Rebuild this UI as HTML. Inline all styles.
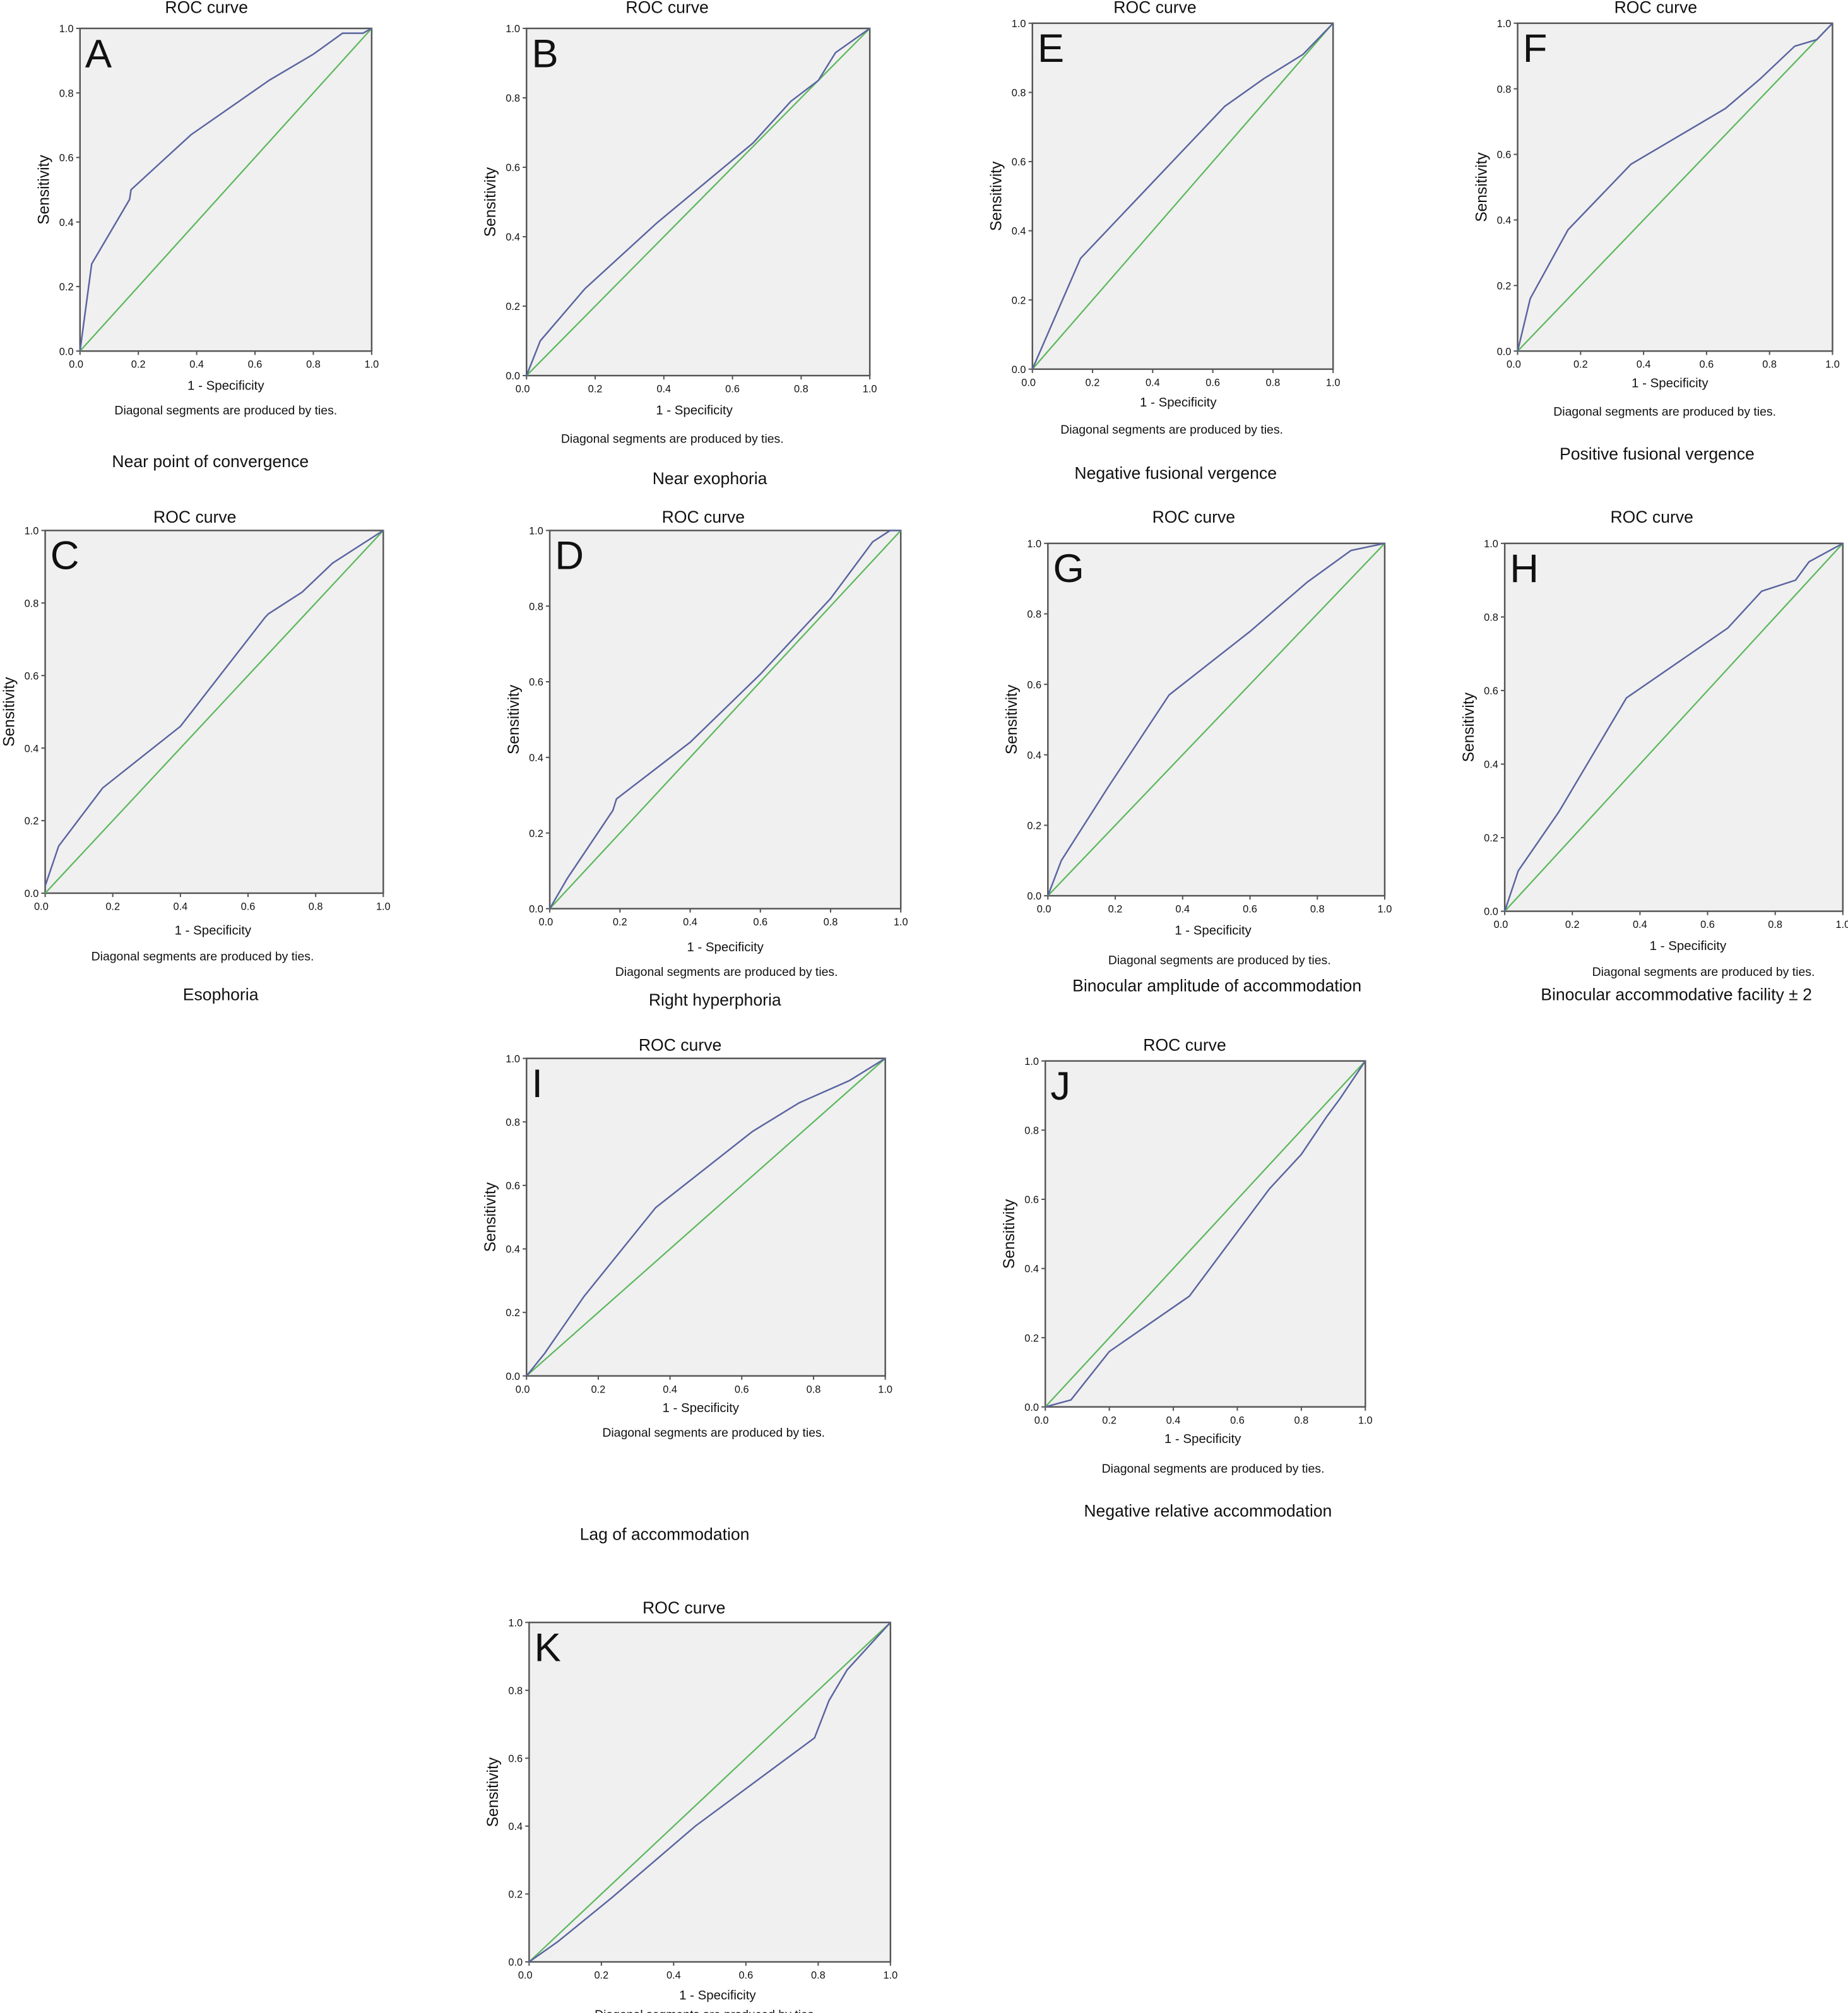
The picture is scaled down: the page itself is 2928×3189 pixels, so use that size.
<!DOCTYPE html>
<html><head><meta charset="utf-8"><style>
html,body{margin:0;padding:0;background:#fff;}
svg{display:block;font-family:"Liberation Sans",sans-serif;}
</style></head><body>
<svg id="fig" width="2928" height="3189" viewBox="0 0 1432 1559.6" preserveAspectRatio="none" xmlns="http://www.w3.org/2000/svg"></svg>
<script>
const panelLetters = ["A","B","E","F","C","D","G","H","I","J","K"];
const subtitles = ["Near point of convergence","Near exophoria","Negative fusional vergence","Positive fusional vergence","Esophoria","Right hyperphoria","Binocular amplitude of accommodation","Binocular accommodative facility \u00b1 2","Lag of accommodation","Negative relative accommodation",""];
const tickLabels = ["0.0","0.2","0.4","0.6","0.8","1.0"];
const tickValues = [0,0.2,0.4,0.6,0.8,1.0];
const fprA=[0,0.04,0.17,0.175,0.38,0.65,0.8,0.9,0.97,1], tprA=[0,0.27,0.47,0.5,0.67,0.84,0.92,0.985,0.985,1];
const fprB=[0,0.04,0.17,0.38,0.66,0.77,0.85,0.9,1], tprB=[0,0.1,0.25,0.44,0.67,0.79,0.85,0.93,1];
const fprE=[0,0.16,0.4,0.64,0.77,0.9,1], tprE=[0,0.32,0.54,0.76,0.84,0.91,1];
const fprF=[0,0.04,0.16,0.36,0.66,0.77,0.88,0.95,1], tprF=[0,0.16,0.37,0.57,0.74,0.83,0.93,0.95,1];
const fprC=[0,0.04,0.17,0.4,0.65,0.66,0.76,0.85,1], tprC=[0.02,0.13,0.29,0.46,0.76,0.77,0.83,0.91,1];
const fprD=[0,0.05,0.18,0.19,0.4,0.6,0.8,0.92,0.97,1], tprD=[0,0.08,0.26,0.29,0.44,0.62,0.82,0.97,1,1];
const fprG=[0,0.04,0.16,0.18,0.36,0.6,0.77,0.9,1], tprG=[0,0.1,0.28,0.31,0.57,0.75,0.89,0.98,1];
const fprH=[0,0.04,0.16,0.36,0.66,0.76,0.86,0.9,1], tprH=[0,0.11,0.27,0.58,0.77,0.87,0.9,0.95,1];
const fprI=[0,0.05,0.16,0.36,0.63,0.76,0.9,1], tprI=[0,0.07,0.25,0.53,0.77,0.86,0.93,1];
const fprJ=[0,0.08,0.2,0.45,0.7,0.8,0.88,0.92,1], tprJ=[0,0.02,0.16,0.32,0.63,0.73,0.84,0.89,1];
const fprK=[0,0.08,0.23,0.46,0.79,0.83,0.88,1], tprK=[0,0.06,0.19,0.4,0.66,0.77,0.86,1];
const fprs=[fprA,fprB,fprE,fprF,fprC,fprD,fprG,fprH,fprI,fprJ,fprK];
const tprs=[tprA,tprB,tprE,tprF,tprC,tprD,tprG,tprH,tprI,tprJ,tprK];
// layout: [x0,x1,y0(top),y1(bottom), titleX,titleY, xlabX,xlabY, diagX,diagY, subX,subY]
const layout=[
[62,288,22,272,160,10,175,302,175,321,163,362],
[408,674,22,291,517,10,538,321,521,343,550,375],
[800,1033,18,286,895,10,913,315,908,336,911,371],
[1176,1420,18,272,1283,10,1294,300,1290,322,1284,356],
[35,297,411,692,151,405,165,724,157,744,171,775],
[426,698,411,704,545,405,562,737,563,756,554,779],
[812,1073,421,694,925,405,940,724,945,747,943,768],
[1166,1428,421,706,1280,405,1308,736,1320,756,1299,775],
[408,686,820,1066,527,814,543,1094,553,1113,515,1193],
[810,1058,822,1090,918,814,932,1118,940,1141,936,1175],
[410,690,1257,1520,530,1250,556,1549,547,1564,0,0]];
const NS="http://www.w3.org/2000/svg";
const svg=document.getElementById('fig');
function mk(tag,attrs,parent){const e=document.createElementNS(NS,tag);for(const k in attrs)e.setAttribute(k,attrs[k]);(parent||svg).appendChild(e);return e;}
function txt(s,x,y,size,anchor,parent,extra){const t=mk('text',Object.assign({x:x,y:y,'font-size':size,'text-anchor':anchor||'middle',fill:'#111'},extra||{}),parent);t.textContent=s;return t;}
layout.forEach((L,i)=>{
  const [x0,x1,y0,y1]=L;
  const g=mk('g',{});
  
  
  const sx=v=>x0+v*(x1-x0), sy=v=>y1-v*(y1-y0);
  const bg=mk('rect',{x:x0,y:y0,width:x1-x0,height:y1-y0,fill:'#f0f0f0',stroke:'#555',"stroke-width":1.2},g);
  
  
  tickValues.forEach((v,k)=>{
    mk('line',{x1:sx(v),x2:sx(v),y1:y1,y2:y1+3,stroke:'#555','stroke-width':1},g);
    mk('line',{x1:x0-3,x2:x0,y1:sy(v),y2:sy(v),stroke:'#555','stroke-width':1},g);
    const xt=txt(tickLabels[k],sx(v)-(k==0?3:0),y1+13,8,'middle',g);
    
    
    const yt=txt(tickLabels[k],x0-5,sy(v)+3,8,'end',g);
    
    
  });
  const dg=mk('line',{x1:sx(0),y1:sy(0),x2:sx(1),y2:sy(1),stroke:'#5cb85c','stroke-width':1.1},g);
  
  
  const pts=fprs[i].map((f,k)=>sx(f).toFixed(2)+','+sy(tprs[i][k]).toFixed(2)).join(' ');
  const pl=mk('polyline',{points:pts,fill:'none',stroke:'#5a64a0','stroke-width':1.2},g);
  
  
  const lt=txt(panelLetters[i],x0+4,y0+30,31,'start',g);
  
  
  const tt=txt('ROC curve',L[4],L[5],13,'middle',g);
  
  
  const xl=txt('1 - Specificity',L[6],L[7],10,'middle',g);
  
  
  const yx=x0-24, yy=(y0+y1)/2;
  const yl=txt('Sensitivity',yx,yy,12,'middle',g,{transform:'rotate(-90 '+yx+' '+yy+')'});
  
  
  const dn=txt('Diagonal segments are produced by ties.',L[8],L[9],9.5,'middle',g);
  
  
  if(subtitles[i]){
    const st=txt(subtitles[i],L[10],L[11],13,'middle',g);
    
    
  }
});
</script>
</body></html>
